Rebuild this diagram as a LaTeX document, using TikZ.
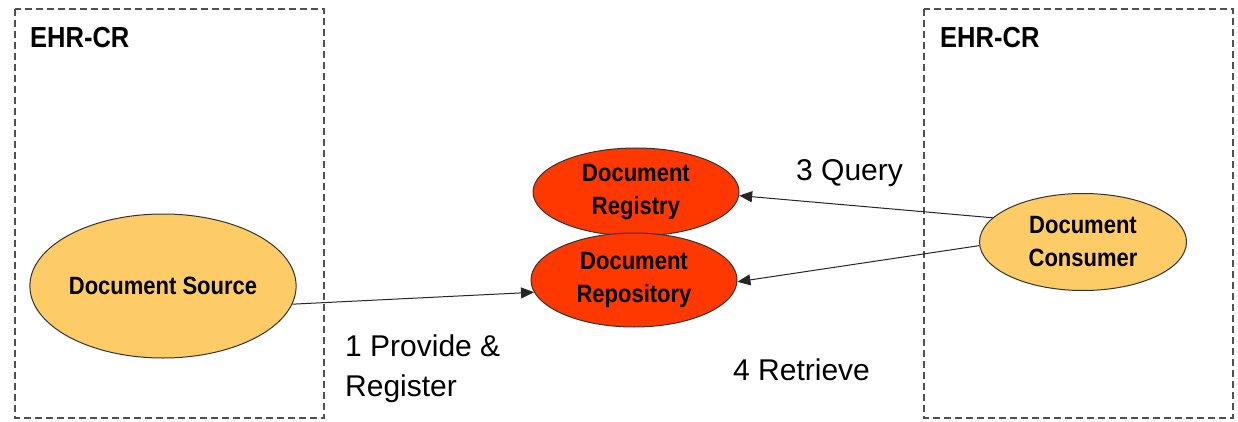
\documentclass[tikz,border=0pt]{standalone}
\usepackage{fontspec}
\setmainfont{Liberation Sans}
\newfontfamily\narrowbold[FakeStretch=0.88]{Liberation Sans Bold}
\usetikzlibrary{shapes.geometric,arrows.meta}

\definecolor{actorfill}{RGB}{253,204,102}
\definecolor{servicefill}{RGB}{255,56,0}
\definecolor{edgegray}{RGB}{80,80,80}

\tikzset{
  crbox/.style={draw=edgegray, line width=1.3pt, dash pattern=on 7pt off 4pt},
  crtitle/.style={anchor=base west, inner sep=0pt,
    font=\narrowbold\fontsize{29}{33}\selectfont},
  actorshape/.style={ellipse, draw=black!80, line width=1pt, inner sep=0pt,
    align=center, font=\narrowbold\fontsize{25}{33}\selectfont},
  actorbox/.style={actorshape, fill=actorfill},
  servicebox/.style={actorshape, fill=servicefill},
  msg/.style={draw=black!85, line width=1pt,
    -{Triangle[length=13pt,width=11pt]}},
  msglabel/.style={inner sep=0pt, align=left,
    font=\fontsize{30}{40}\selectfont}
}

\begin{document}
\begin{tikzpicture}[x=1pt,y=-1pt]
  \useasboundingbox (0,0) rectangle (1238,422);

  % care-record domains
  \draw[crbox] (15,9) rectangle (324,418);
  \draw[crbox] (924,9) rectangle (1233,418);
  \node[crtitle] (ehrL) at (30,48) {EHR-CR};
  \node[crtitle] (ehrR) at (940,48) {EHR-CR};

  % actors
  \node[actorbox, minimum width=266pt, minimum height=144pt] (src) at (163,286)
    {Document Source};
  \node[servicebox, minimum width=206pt, minimum height=88pt] (reg) at (636,192)
    {Document\\Registry};
  \node[servicebox, minimum width=206pt, minimum height=94pt] (rep) at (634,280)
    {Document\\Repository};
  \node[actorbox, minimum width=207pt, minimum height=97pt] (con) at (1083,242)
    {Document\\Consumer};

  % transactions
  \draw[msg] (src.-8.7) -- (rep.-173.4);
  \draw[msg] (con.165.8) -- (reg.-2.7);
  \draw[msg] (con.182.9) -- (rep.-1);

  \node[msglabel, anchor=base west] (q) at (796,181) {3 Query};
  \node[msglabel, anchor=base west] (r) at (733,380) {4 Retrieve};
  \node[msglabel, anchor=north west] (p) at (345,335) {1 Provide \&\\Register};
\end{tikzpicture}
\end{document}
